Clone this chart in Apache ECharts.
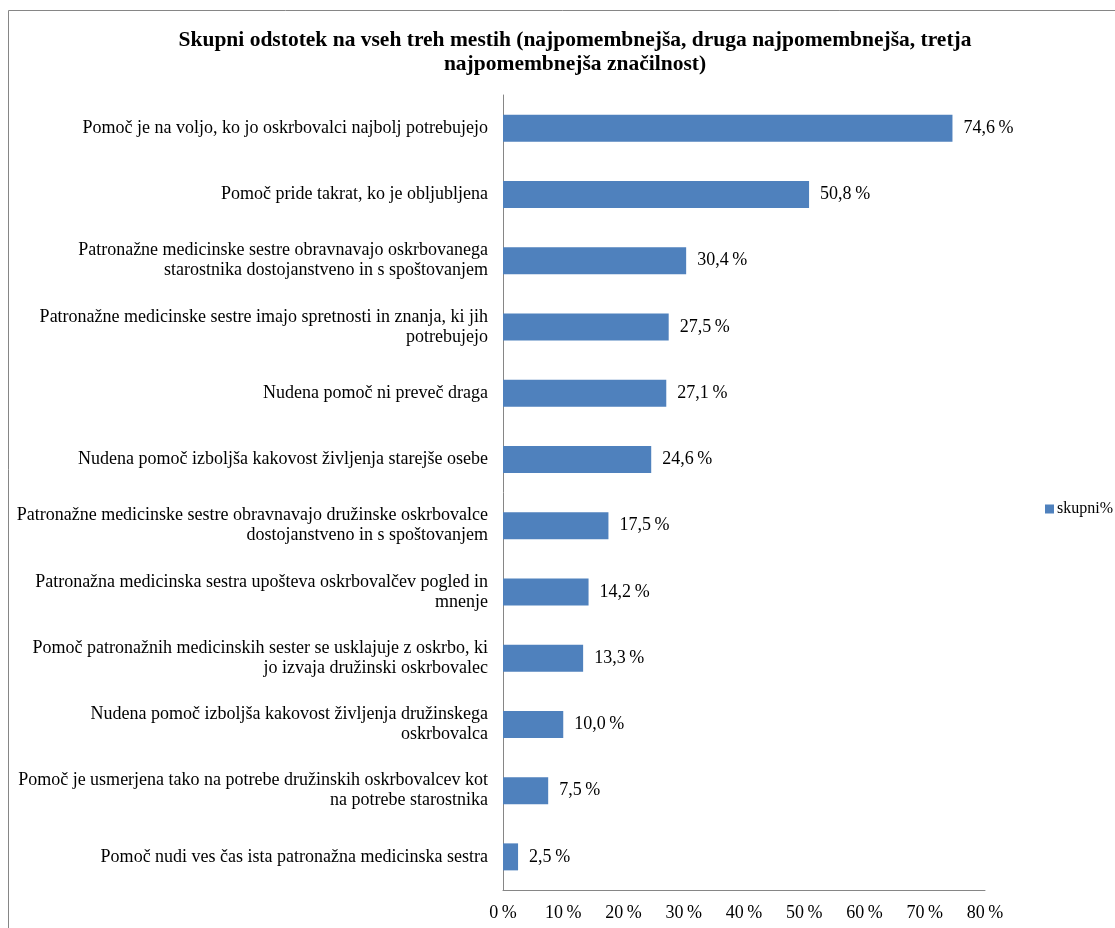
<!DOCTYPE html>
<html lang="sl">
<head>
<meta charset="utf-8" />
<title>Skupni odstotek</title>
<script src="https://cdn.jsdelivr.net/npm/echarts@6/dist/echarts.min.js"></script>
<style>
* { margin: 0; padding: 0; }
#chart-container { width: 1115px; height: 928px; background: #fff; }
</style>
</head>
<body>
<div id="chart-container"></div>
<script>
var categories = [
	"Pomoč je na voljo, ko jo oskrbovalci najbolj potrebujejo",
	"Pomoč pride takrat, ko je obljubljena",
	"Patronažne medicinske sestre obravnavajo oskrbovanega\nstarostnika dostojanstveno in s spoštovanjem",
	"Patronažne medicinske sestre imajo spretnosti in znanja, ki jih\npotrebujejo",
	"Nudena pomoč ni preveč draga",
	"Nudena pomoč izboljša kakovost življenja starejše osebe",
	"Patronažne medicinske sestre obravnavajo družinske oskrbovalce\ndostojanstveno in s spoštovanjem",
	"Patronažna medicinska sestra upošteva oskrbovalčev pogled in\nmnenje",
	"Pomoč patronažnih medicinskih sester se usklajuje z oskrbo, ki\njo izvaja družinski oskrbovalec",
	"Nudena pomoč izboljša kakovost življenja družinskega\noskrbovalca",
	"Pomoč je usmerjena tako na potrebe družinskih oskrbovalcev kot\nna potrebe starostnika",
	"Pomoč nudi ves čas ista patronažna medicinska sestra"
];
var skupni = [74.6, 50.8, 30.4, 27.5, 27.1, 24.6, 17.5, 14.2, 13.3, 10.0, 7.5, 2.5];
var xTicks = [0, 10, 20, 30, 40, 50, 60, 70, 80];

var serif = "'Liberation Serif', 'DejaVu Serif', serif";
var myChart = echarts.init(document.getElementById("chart-container"), null, { renderer: "canvas" });

var option = {
	animation: false,
	backgroundColor: "#fff",
	title: {
		text: "Skupni odstotek na vseh treh mestih (najpomembnejša, druga najpomembnejša, tretja\nnajpomembnejša značilnost)",
		left: 570,
		top: 23,
		textAlign: "center",
		textStyle: { fontFamily: serif, fontSize: 21.5, fontWeight: "bold", color: "#000", lineHeight: 24 }
	},
	graphic: [{
		type: "rect",
		shape: { x: 8.5, y: 10.5, width: 1120, height: 930 },
		style: { fill: "none", stroke: "#868686", lineWidth: 1 }
	}],
	legend: {
		left: 1040,
		top: 496,
		itemWidth: 9,
		itemHeight: 9,
		itemGap: 4,
		icon: "rect",
		textStyle: { fontFamily: serif, fontSize: 16, color: "#000", padding: [0, 0, 0, -2] },
		data: ["skupni %"],
		formatter: function () { return "skupni%"; }
	},
	grid: { left: 503, right: 130, top: 95, bottom: 38, containLabel: false },
	xAxis: {
		type: "value",
		min: 0,
		max: 80,
		interval: 10,
		axisLine: { show: true, lineStyle: { color: "#868686" } },
		axisTick: { show: false },
		splitLine: { show: false },
		axisLabel: {
			fontFamily: serif, fontSize: 18, color: "#000", margin: 14,
			formatter: function (v) { return xTicks.indexOf(v) >= 0 ? v + "\u2009%" : ""; }
		}
	},
	yAxis: {
		type: "category",
		inverse: true,
		data: categories,
		axisLine: { show: true, lineStyle: { color: "#868686" } },
		axisTick: { show: false },
		axisLabel: {
			fontFamily: serif, fontSize: 18, color: "#000", margin: 15,
			align: "right", lineHeight: 20
		}
	},
	series: [{
		name: "skupni %",
		type: "bar",
		data: skupni,
		barWidth: 27,
		itemStyle: { color: "#4F81BD" },
		label: {
			show: true,
			position: "right",
			distance: 11,
			fontFamily: serif, fontSize: 18, color: "#000",
			formatter: function (p) { return p.value.toFixed(1).replace(".", ",") + "\u2009%"; }
		}
	}]
};
myChart.setOption(option);
</script>
</body>
</html>
